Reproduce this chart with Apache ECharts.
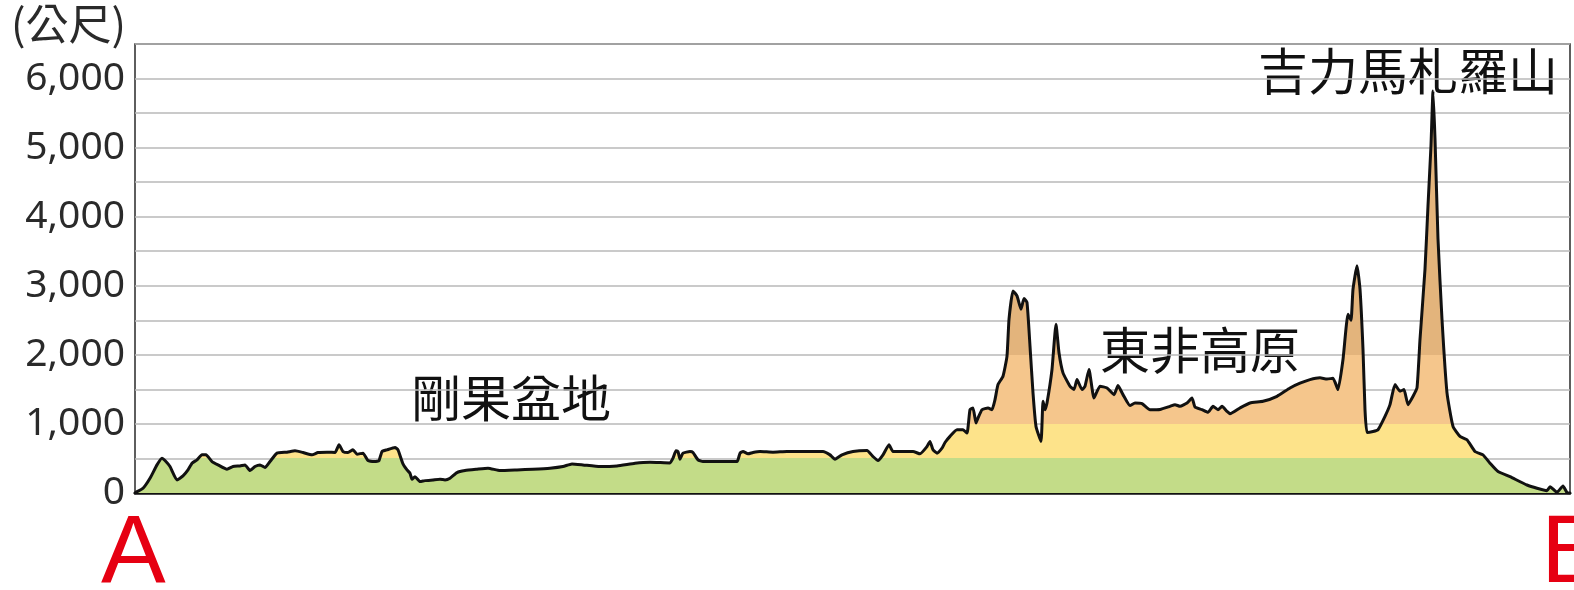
<!DOCTYPE html>
<html>
<head>
<meta charset="utf-8">
<script src="https://cdn.jsdelivr.net/npm/echarts@6/dist/echarts.min.js"></script>
<style>
html,body{margin:0;padding:0;background:#fff;}
#c{width:1574px;height:590px;}
</style>
</head>
<body>
<div id="c"></div>
<script>
// distance along profile A -> B (relative units)
var distance = [0,1,8,15,22,27,30,35,42,48,53,57,62,67,71,77,83,92,98,105,110,115,120,125,130,135,142,152,160,168,177,183,192,200,204,208,213,218,222,228,233,240,244,247,252,260,263,268,272,275,277,280,285,290,298,305,310,315,322,330,342,353,365,382,398,415,428,437,448,465,482,500,515,535,538,541,543,545,548,555,558,563,568,585,602,605,608,613,618,625,638,652,668,688,695,700,707,718,732,738,743,748,754,758,768,778,785,792,795,798,802,807,810,815,822,828,832,835,838,841,843,847,853,857,860,863,868,872,874,878,882,886,889,892,895,898,901,906,908,910,912,917,921,924,928,935,939,942,947,950,954,959,965,972,979,983,988,995,1000,1007,1015,1025,1035,1040,1045,1052,1057,1060,1067,1073,1078,1083,1087,1092,1095,1105,1115,1128,1142,1155,1165,1175,1185,1192,1198,1203,1208,1213,1216,1218,1222,1225,1228,1230,1232,1238,1243,1250,1255,1260,1265,1269,1273,1278,1282,1285,1290,1293,1296,1298,1300,1303,1307,1312,1318,1325,1332,1340,1348,1355,1363,1375,1392,1412,1415,1422,1428,1432,1435];
// elevation in metres
var elevation = [0,10,68,213,407,504,470,383,189,247,334,431,480,552,552,455,407,344,383,392,407,325,383,407,368,455,577,591,610,586,552,586,591,586,698,600,586,625,562,577,470,455,470,600,625,659,625,420,334,286,199,237,165,179,189,199,189,213,296,325,344,359,325,334,344,359,383,421,407,383,392,431,446,436,504,610,600,489,577,601,586,480,455,455,455,577,601,567,586,601,591,601,601,601,552,489,552,601,615,528,470,552,698,601,601,601,567,673,746,625,577,649,731,820,916,916,867,1206,1231,1013,1085,1206,1231,1206,1352,1570,1691,1982,2515,2926,2854,2660,2815,2757,2127,1449,964,746,1327,1206,1303,1788,2442,2030,1739,1546,1497,1642,1497,1546,1788,1376,1546,1521,1424,1555,1424,1265,1303,1294,1206,1210,1255,1279,1255,1303,1376,1245,1206,1168,1255,1206,1255,1182,1148,1231,1303,1328,1400,1521,1590,1642,1667,1650,1660,1497,1933,2587,2500,2950,3290,2950,2078,1206,877,891,916,1110,1279,1570,1473,1497,1279,1400,1521,2224,3241,4162,5034,5820,5131,3677,2515,1449,964,819,770,601,552,431,310,237,116,34,92,10,102,5,0];
// y-axis ticks
var yTicks = [0,1000,2000,3000,4000,5000,6000];
var unitLabel = '(公尺)';
var regionLabels = ['剛果盆地','東非高原','吉力馬札羅山'];
var endLabels = ['A','B'];

var pts = distance.map(function(d,i){return [d, elevation[i]];});

var chart = echarts.init(document.getElementById('c'), null, {renderer:'canvas'});
var cjk = '"Noto Sans CJK TC","Noto Sans CJK SC",sans-serif';
chart.setOption({
  animation:false,
  backgroundColor:'#fff',
  grid:{left:135,right:4,top:44,bottom:97,show:true,borderColor:'#2a2a2a',borderWidth:1.5,backgroundColor:'transparent'},
  xAxis:{type:'value',min:0,max:1435,axisLabel:{show:false},axisTick:{show:false},splitLine:{show:false},
    axisLine:{show:true,lineStyle:{color:'#111',width:2.5}}},
  yAxis:{type:'value',min:0,max:6500,interval:500,
    axisLine:{show:false},axisTick:{show:false},
    splitLine:{show:true,lineStyle:{color:'#b8b8b8',width:1.5}},
    axisLabel:{margin:10,fontSize:39,color:'#2a2a2a',fontFamily:'"Noto Sans",sans-serif',
      formatter:function(v){return yTicks.indexOf(v)>=0 ? echarts.format.addCommas(v) : '';}}},
  visualMap:{show:false,type:'piecewise',seriesIndex:0,dimension:1,
    pieces:[{lt:500,color:'#c3dc88'},{gte:500,lt:1000,color:'#fde38a'},{gte:1000,lt:2000,color:'#f5c68c'},{gte:2000,color:'#e3b47c'}]},
  series:[
    {type:'line',data:pts,symbol:'none',smooth:0.15,lineStyle:{width:0},areaStyle:{opacity:1},z:2},
    {type:'line',data:pts,symbol:'none',smooth:0.15,lineStyle:{width:3,color:'#111',join:'round',cap:'round'},z:3}
  ],
  graphic:[
    {type:'text',left:11,top:2,style:{text:unitLabel,font:'43px '+cjk,fill:'#2a2a2a'}},
    {type:'text',left:411,top:373,style:{text:regionLabels[0],font:'50px '+cjk,fill:'#111'}},
    {type:'text',left:1100,top:325,style:{text:regionLabels[1],font:'50px '+cjk,fill:'#111'}},
    {type:'text',left:1258,top:46,style:{text:regionLabels[2],font:'50px '+cjk,fill:'#111'}},
    {type:'text',left:101,top:507,style:{text:endLabels[0],font:'97px "Liberation Sans",sans-serif',fill:'#e60012'}},
    {type:'text',left:1541,top:507,style:{text:endLabels[1],font:'97px "Liberation Sans",sans-serif',fill:'#e60012'}}
  ]
});
</script>
</body>
</html>
